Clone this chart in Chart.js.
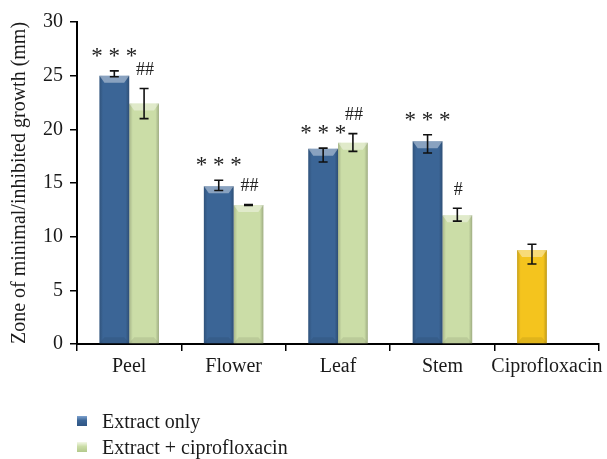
<!DOCTYPE html>
<html>
<head>
<meta charset="utf-8">
<script src="https://cdn.jsdelivr.net/npm/chart.js@4.4.0/dist/chart.umd.min.js"></script>
<style>
  html, body { margin: 0; padding: 0; background: #fff; }
  #wrap { position: relative; width: 607px; height: 459px; }
  #c { position: absolute; left: 0; top: 0; }
  .leg { position: absolute; left: 0; font-family: "Liberation Serif", "Times New Roman", serif; font-size: 20px; color: #1a1a1a; white-space: nowrap; }
  .leg .sw { position: absolute; left: 77px; width: 10px; height: 10px; }
  .leg .tx { position: absolute; left: 102px; line-height: 20px; }
</style>
</head>
<body>
<div id="wrap">
  <canvas id="c" width="607" height="459"></canvas>
  <div id="legend"></div>
</div>
<script>
// ---- data ----
const categories = ['Peel', 'Flower', 'Leaf', 'Stem', 'Ciprofloxacin'];
const extractOnly     = [25.0, 14.7, 18.2, 18.9, 8.75];
const extractOnlyHigh = [25.45, 15.25, 18.25, 19.5, 9.3];
const extractOnlyLow  = [24.9, 14.3, 16.95, 17.8, 7.45];
const extractCipro     = [22.4, 12.95, 18.75, 12.0, null];
const extractCiproHigh = [23.8, 13.0, 19.6, 12.65, null];
const extractCiproLow  = [21.0, 12.9, 17.95, 11.45, null];
const sigExtract = ['* * *', '* * *', '* * *', '* * *', ''];
const sigCombo   = ['##', '##', '##', '#', ''];
const yTicks = [0, 5, 10, 15, 20, 25, 30];
const seriesNames = ['Extract only', 'Extract + ciprofloxacin'];

const FONT = '"Liberation Serif", "Times New Roman", serif';
const BLUE = '#3B6596', GREEN = '#CBDDA7', YELLOW = '#F4C41E';

const blueColors = categories.map(c => c === 'Ciprofloxacin' ? YELLOW : BLUE);

const errHigh = [extractOnlyHigh, extractCiproHigh];
const errLow = [extractOnlyLow, extractCiproLow];
const sigs = [sigExtract, sigCombo];

const barStyle = {
  id: 'barStyle',
  afterDatasetsDraw(chart) {
    const ctx = chart.ctx;
    const yS = chart.scales.y;
    chart.data.datasets.forEach((ds, di) => {
      const meta = chart.getDatasetMeta(di);
      meta.data.forEach((bar, i) => {
        if (ds.data[i] == null) return;
        const w = bar.width, l = bar.x - w / 2, r = bar.x + w / 2, t = bar.y, b = bar.base;
        ctx.save();
        const g = ctx.createLinearGradient(l, 0, r, 0);
        g.addColorStop(0, 'rgba(0,0,0,0.18)');
        g.addColorStop(0.12, 'rgba(0,0,0,0.0)');
        g.addColorStop(0.88, 'rgba(0,0,0,0.0)');
        g.addColorStop(1, 'rgba(0,0,0,0.22)');
        ctx.fillStyle = g;
        ctx.fillRect(l, t, w, b - t);
        ctx.beginPath();
        ctx.moveTo(l, t); ctx.lineTo(r, t); ctx.lineTo(r - 5, t + 7); ctx.lineTo(l + 5, t + 7); ctx.closePath();
        ctx.fillStyle = 'rgba(255,255,255,0.4)';
        ctx.fill();
        ctx.beginPath();
        ctx.moveTo(l, b); ctx.lineTo(r, b); ctx.lineTo(r - 5, b - 6); ctx.lineTo(l + 5, b - 6); ctx.closePath();
        ctx.fillStyle = 'rgba(0,0,0,0.08)';
        ctx.fill();
        ctx.restore();
      });
    });
    chart.data.datasets.forEach((ds, di) => {
      const meta = chart.getDatasetMeta(di);
      meta.data.forEach((bar, i) => {
        if (ds.data[i] == null) return;
        const yh = yS.getPixelForValue(errHigh[di][i]);
        const yl = yS.getPixelForValue(errLow[di][i]);
        ctx.save();
        ctx.strokeStyle = '#111';
        ctx.lineWidth = 1.6;
        ctx.beginPath();
        ctx.moveTo(bar.x, yh); ctx.lineTo(bar.x, yl);
        ctx.moveTo(bar.x - 4.5, yh); ctx.lineTo(bar.x + 4.5, yh);
        ctx.moveTo(bar.x - 4.5, yl); ctx.lineTo(bar.x + 4.5, yl);
        ctx.stroke();
        const s = sigs[di][i];
        if (s) {
          ctx.fillStyle = '#222';
          ctx.textAlign = 'center';
          ctx.textBaseline = 'middle';
          if (di === 0) {
            ctx.font = '23px ' + FONT;
            ctx.fillText(s, bar.x, yh - 14);
          } else {
            ctx.font = '18px ' + FONT;
            ctx.fillText(s, bar.x + 1, yh - 18);
          }
        }
        ctx.restore();
      });
    });
  }
};

const chart = new Chart(document.getElementById('c'), {
  type: 'bar',
  data: {
    labels: categories,
    datasets: [
      { label: seriesNames[0], data: extractOnly, backgroundColor: blueColors, borderWidth: 0 },
      { label: seriesNames[1], data: extractCipro, backgroundColor: GREEN, borderWidth: 0 }
    ]
  },
  options: {
    responsive: false,
    animation: false,
    events: [],
    layout: { padding: { top: 22, right: 6, left: 0, bottom: 0 } },
    categoryPercentage: 0.57,
    barPercentage: 1.0,
    plugins: { legend: { display: false }, tooltip: { enabled: false } },
    scales: {
      x: {
        grid: { display: true, drawOnChartArea: false, drawTicks: true, tickLength: 7, color: '#000', lineWidth: 1.5, offset: true },
        border: { display: true, color: '#000', width: 2 },
        ticks: { color: '#1a1a1a', font: { family: FONT, size: 20 }, padding: 4, maxRotation: 0, autoSkip: false },
        afterFit(scale) { scale.height = 115; }
      },
      y: {
        min: 0, max: 30,
        afterBuildTicks(scale) { scale.ticks = yTicks.map(v => ({ value: v })); },
        grid: { display: true, drawOnChartArea: false, drawTicks: true, tickLength: 7, color: '#000', lineWidth: 1.5 },
        border: { display: true, color: '#000', width: 2 },
        ticks: { color: '#1a1a1a', font: { family: FONT, size: 20 }, padding: 7 },
        title: { display: true, text: 'Zone of minimal/inhibited growth (mm)', color: '#1a1a1a', font: { family: FONT, size: 20 }, padding: { top: 8, bottom: 0 } },
        afterFit(scale) { scale.width = 77; }
      }
    }
  },
  plugins: [barStyle]
});

const legColors = [
  'linear-gradient(180deg,#7fa3d0 0%,#3B6596 45%,#2f5584 100%)',
  'linear-gradient(180deg,#f4f8e8 0%,#CBDDA7 45%,#b3c98c 100%)'
];
const legTops = [421, 447];
const legEl = document.getElementById('legend');
seriesNames.forEach((name, i) => {
  const d = document.createElement('div');
  d.className = 'leg';
  d.style.top = (legTops[i] - 10) + 'px';
  d.innerHTML = '<span class="sw" style="top:5px;background:' + legColors[i] + '"></span><span class="tx">' + name + '</span>';
  legEl.appendChild(d);
});
</script>
</body>
</html>
